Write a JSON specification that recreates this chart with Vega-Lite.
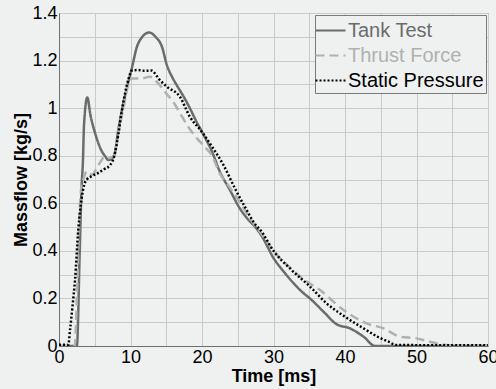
{
  "$schema": "https://vega.github.io/schema/vega-lite/v6.json",
  "width": 429,
  "height": 333,
  "autosize": "none",
  "padding": {"left": 59, "top": 13, "right": 8, "bottom": 43},
  "background": "#eff1f1",
  "config": {
    "font": "Liberation Sans",
    "view": {"stroke": "#7a7a7a", "strokeWidth": 1, "fill": "#eff1f1"},
    "axis": {
      "gridColor": "#c9cbcb",
      "gridWidth": 1,
      "gridOpacity": 1,
      "domainColor": "#6f6f6f",
      "ticks": false,
      "labelColor": "#000000",
      "labelFont": "Liberation Sans",
      "labelFontSize": 18,
      "labelFlush": false,
      "labelOverlap": false,
      "titleFont": "Liberation Sans",
      "titleFontSize": 18,
      "titleFontWeight": "bold",
      "titleColor": "#000000"
    }
  },
  "data": {
    "values": [
      {"series": "Tank Test", "t": 0, "v": 0},
      {"series": "Tank Test", "t": 2.5, "v": 0},
      {"series": "Tank Test", "t": 2.9, "v": 0.4},
      {"series": "Tank Test", "t": 3.15, "v": 0.66},
      {"series": "Tank Test", "t": 3.35, "v": 0.78},
      {"series": "Tank Test", "t": 3.5, "v": 0.93},
      {"series": "Tank Test", "t": 3.96, "v": 1.045},
      {"series": "Tank Test", "t": 4.4, "v": 0.97},
      {"series": "Tank Test", "t": 5.0, "v": 0.9},
      {"series": "Tank Test", "t": 5.5, "v": 0.853},
      {"series": "Tank Test", "t": 6.0, "v": 0.818},
      {"series": "Tank Test", "t": 6.45, "v": 0.798},
      {"series": "Tank Test", "t": 6.9, "v": 0.782},
      {"series": "Tank Test", "t": 7.4, "v": 0.788},
      {"series": "Tank Test", "t": 7.8, "v": 0.81},
      {"series": "Tank Test", "t": 8.3, "v": 0.91},
      {"series": "Tank Test", "t": 9.0, "v": 1.02},
      {"series": "Tank Test", "t": 9.7, "v": 1.11},
      {"series": "Tank Test", "t": 10.2, "v": 1.17},
      {"series": "Tank Test", "t": 10.9, "v": 1.258},
      {"series": "Tank Test", "t": 11.6, "v": 1.298},
      {"series": "Tank Test", "t": 12.6, "v": 1.318},
      {"series": "Tank Test", "t": 13.5, "v": 1.3},
      {"series": "Tank Test", "t": 14.4, "v": 1.258},
      {"series": "Tank Test", "t": 15.1, "v": 1.18},
      {"series": "Tank Test", "t": 15.8, "v": 1.132},
      {"series": "Tank Test", "t": 16.5, "v": 1.095},
      {"series": "Tank Test", "t": 17.4, "v": 1.05},
      {"series": "Tank Test", "t": 18.3, "v": 1.0},
      {"series": "Tank Test", "t": 19.2, "v": 0.945},
      {"series": "Tank Test", "t": 20, "v": 0.9},
      {"series": "Tank Test", "t": 21.4, "v": 0.817},
      {"series": "Tank Test", "t": 22.5, "v": 0.733},
      {"series": "Tank Test", "t": 23.9, "v": 0.656},
      {"series": "Tank Test", "t": 25.3, "v": 0.578},
      {"series": "Tank Test", "t": 26.5, "v": 0.53},
      {"series": "Tank Test", "t": 27.6, "v": 0.495},
      {"series": "Tank Test", "t": 28.5, "v": 0.455},
      {"series": "Tank Test", "t": 30, "v": 0.37},
      {"series": "Tank Test", "t": 31.5, "v": 0.31},
      {"series": "Tank Test", "t": 32.8, "v": 0.264},
      {"series": "Tank Test", "t": 34.2, "v": 0.222},
      {"series": "Tank Test", "t": 35.1, "v": 0.2},
      {"series": "Tank Test", "t": 37, "v": 0.144},
      {"series": "Tank Test", "t": 38.8, "v": 0.092},
      {"series": "Tank Test", "t": 40.7, "v": 0.074},
      {"series": "Tank Test", "t": 42.6, "v": 0.039},
      {"series": "Tank Test", "t": 44.2, "v": 0},
      {"series": "Tank Test", "t": 60, "v": 0},
      {"series": "Thrust Force", "t": 0, "v": 0},
      {"series": "Thrust Force", "t": 2.2, "v": 0},
      {"series": "Thrust Force", "t": 2.5, "v": 0.2},
      {"series": "Thrust Force", "t": 2.8, "v": 0.5},
      {"series": "Thrust Force", "t": 3.1, "v": 0.66},
      {"series": "Thrust Force", "t": 3.5, "v": 0.71},
      {"series": "Thrust Force", "t": 3.9, "v": 0.735},
      {"series": "Thrust Force", "t": 4.6, "v": 0.72},
      {"series": "Thrust Force", "t": 5.5, "v": 0.76},
      {"series": "Thrust Force", "t": 6.4, "v": 0.795},
      {"series": "Thrust Force", "t": 7.0, "v": 0.79},
      {"series": "Thrust Force", "t": 7.7, "v": 0.8},
      {"series": "Thrust Force", "t": 8.3, "v": 0.9},
      {"series": "Thrust Force", "t": 9.0, "v": 1.0},
      {"series": "Thrust Force", "t": 9.7, "v": 1.1},
      {"series": "Thrust Force", "t": 10.2, "v": 1.125},
      {"series": "Thrust Force", "t": 11.5, "v": 1.125},
      {"series": "Thrust Force", "t": 12.7, "v": 1.132},
      {"series": "Thrust Force", "t": 13.9, "v": 1.104},
      {"series": "Thrust Force", "t": 15.1, "v": 1.058},
      {"series": "Thrust Force", "t": 15.8, "v": 1.034},
      {"series": "Thrust Force", "t": 16.9, "v": 0.98},
      {"series": "Thrust Force", "t": 18.0, "v": 0.925},
      {"series": "Thrust Force", "t": 19.3, "v": 0.873},
      {"series": "Thrust Force", "t": 20.3, "v": 0.84},
      {"series": "Thrust Force", "t": 21.4, "v": 0.8},
      {"series": "Thrust Force", "t": 22.5, "v": 0.725},
      {"series": "Thrust Force", "t": 23.7, "v": 0.675},
      {"series": "Thrust Force", "t": 25.1, "v": 0.614},
      {"series": "Thrust Force", "t": 27.2, "v": 0.515},
      {"series": "Thrust Force", "t": 28.1, "v": 0.48},
      {"series": "Thrust Force", "t": 30, "v": 0.4},
      {"series": "Thrust Force", "t": 32.3, "v": 0.33},
      {"series": "Thrust Force", "t": 34, "v": 0.285},
      {"series": "Thrust Force", "t": 36.5, "v": 0.235},
      {"series": "Thrust Force", "t": 39.8, "v": 0.151},
      {"series": "Thrust Force", "t": 43, "v": 0.095},
      {"series": "Thrust Force", "t": 45.4, "v": 0.074},
      {"series": "Thrust Force", "t": 47.7, "v": 0.039},
      {"series": "Thrust Force", "t": 50, "v": 0.032},
      {"series": "Thrust Force", "t": 51.9, "v": 0.018},
      {"series": "Thrust Force", "t": 54.2, "v": 0.004},
      {"series": "Thrust Force", "t": 56, "v": 0.002},
      {"series": "Thrust Force", "t": 60, "v": 0.002},
      {"series": "Static Pressure", "t": 0, "v": 0.005},
      {"series": "Static Pressure", "t": 1.3, "v": 0.005},
      {"series": "Static Pressure", "t": 1.54, "v": 0.067},
      {"series": "Static Pressure", "t": 1.9, "v": 0.17},
      {"series": "Static Pressure", "t": 2.24, "v": 0.277},
      {"series": "Static Pressure", "t": 2.7, "v": 0.49},
      {"series": "Static Pressure", "t": 3.17, "v": 0.62},
      {"series": "Static Pressure", "t": 3.5, "v": 0.675},
      {"series": "Static Pressure", "t": 3.9, "v": 0.7},
      {"series": "Static Pressure", "t": 4.5, "v": 0.713},
      {"series": "Static Pressure", "t": 5.5, "v": 0.728},
      {"series": "Static Pressure", "t": 6.3, "v": 0.743},
      {"series": "Static Pressure", "t": 7.13, "v": 0.76},
      {"series": "Static Pressure", "t": 7.74, "v": 0.8},
      {"series": "Static Pressure", "t": 8.3, "v": 0.89},
      {"series": "Static Pressure", "t": 8.8, "v": 0.99},
      {"series": "Static Pressure", "t": 9.7, "v": 1.12},
      {"series": "Static Pressure", "t": 10.2, "v": 1.158},
      {"series": "Static Pressure", "t": 11, "v": 1.16},
      {"series": "Static Pressure", "t": 12, "v": 1.157},
      {"series": "Static Pressure", "t": 12.9, "v": 1.158},
      {"series": "Static Pressure", "t": 14.1, "v": 1.118},
      {"series": "Static Pressure", "t": 15.1, "v": 1.09},
      {"series": "Static Pressure", "t": 16.9, "v": 1.048},
      {"series": "Static Pressure", "t": 18.3, "v": 0.964},
      {"series": "Static Pressure", "t": 20, "v": 0.9},
      {"series": "Static Pressure", "t": 21.4, "v": 0.838},
      {"series": "Static Pressure", "t": 23, "v": 0.761},
      {"series": "Static Pressure", "t": 24.6, "v": 0.663},
      {"series": "Static Pressure", "t": 26, "v": 0.585},
      {"series": "Static Pressure", "t": 27.6, "v": 0.505},
      {"series": "Static Pressure", "t": 28.1, "v": 0.49},
      {"series": "Static Pressure", "t": 30, "v": 0.4},
      {"series": "Static Pressure", "t": 32.3, "v": 0.326},
      {"series": "Static Pressure", "t": 35.1, "v": 0.25},
      {"series": "Static Pressure", "t": 37.4, "v": 0.18},
      {"series": "Static Pressure", "t": 40, "v": 0.123},
      {"series": "Static Pressure", "t": 42.6, "v": 0.074},
      {"series": "Static Pressure", "t": 44.5, "v": 0.04},
      {"series": "Static Pressure", "t": 46.1, "v": 0.018},
      {"series": "Static Pressure", "t": 47.2, "v": 0.004},
      {"series": "Static Pressure", "t": 60, "v": 0.003}
    ]
  },
  "mark": {"type": "line", "strokeWidth": 2.5, "interpolate": "monotone", "clip": true},
  "encoding": {
    "x": {
      "field": "t",
      "type": "quantitative",
      "scale": {"domain": [0, 60], "nice": false},
      "axis": {
        "title": "Time [ms]",
        "values": [0, 5, 10, 15, 20, 25, 30, 35, 40, 45, 50, 55, 60],
        "labelExpr": "datum.value % 10 == 0 ? datum.label : ''",
        "labelPadding": 2,
        "titlePadding": 1
      }
    },
    "y": {
      "field": "v",
      "type": "quantitative",
      "scale": {"domain": [0, 1.4], "nice": false},
      "axis": {
        "title": "Massflow [kg/s]",
        "values": [0, 0.1, 0.2, 0.3, 0.4, 0.5, 0.6, 0.7, 0.8, 0.9, 1, 1.1, 1.2, 1.3, 1.4],
        "format": "~g",
        "labelExpr": "round(datum.value * 10) % 2 == 0 ? datum.label : ''",
        "labelPadding": 2,
        "titlePadding": 1
      }
    },
    "color": {
      "field": "series",
      "type": "nominal",
      "sort": ["Tank Test", "Thrust Force", "Static Pressure"],
      "scale": {"domain": ["Tank Test", "Thrust Force", "Static Pressure"], "range": ["#6b6b6b", "#b0b0b0", "#000000"]},
      "legend": {
        "title": null,
        "orient": "top-right",
        "offset": 2,
        "symbolType": "M-1.2,0H1.2",
        "symbolSize": 625,
        "symbolStrokeWidth": 2,
        "labelFontSize": 20,
        "labelFont": "Liberation Sans",
        "labelLimit": 300,
        "labelOffset": 4,
        "rowPadding": 1,
        "padding": 2,
        "strokeColor": "#7a7a7a",
        "fillColor": "#eff1f1",
        "cornerRadius": 0,
        "encode": {"labels": {"update": {"fill": {"scale": "color", "field": "value"}}}}
      }
    },
    "strokeDash": {
      "field": "series",
      "type": "nominal",
      "sort": ["Tank Test", "Thrust Force", "Static Pressure"],
      "scale": {"domain": ["Tank Test", "Thrust Force", "Static Pressure"], "range": [[1, 0], [9, 5], [2, 2]]},
      "legend": null
    }
  }
}
